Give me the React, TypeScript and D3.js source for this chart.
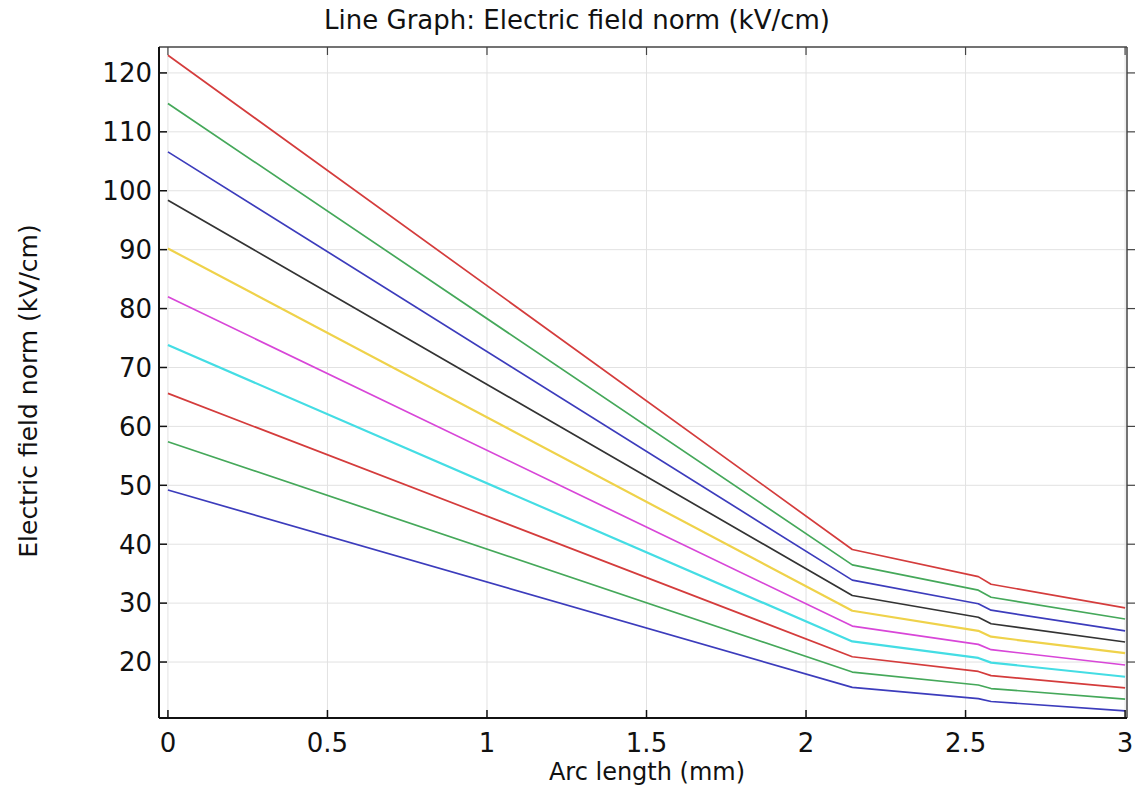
import * as React from 'react';
import * as d3 from 'd3';

// arc length positions (mm) where the curves were sampled
const arcLength = [0, 2.145, 2.54, 2.58, 3];

// electric field norm (kV/cm), bottom curve first
const seriesBlue1 = [49.2, 15.7, 13.8, 13.3, 11.7];
const seriesGreen1 = [57.4, 18.3, 16.1, 15.5, 13.7];
const seriesRed1 = [65.6, 20.9, 18.4, 17.7, 15.6];
const seriesCyan = [73.8, 23.5, 20.7, 19.9, 17.5];
const seriesMagenta = [82.0, 26.1, 23.0, 22.1, 19.5];
const seriesYellow = [90.2, 28.7, 25.3, 24.3, 21.5];
const seriesBlack = [98.4, 31.3, 27.6, 26.5, 23.4];
const seriesBlue2 = [106.6, 33.9, 29.9, 28.8, 25.3];
const seriesGreen2 = [114.8, 36.5, 32.2, 31.0, 27.3];
const seriesRed2 = [123.0, 39.1, 34.5, 33.2, 29.2];

const xTicks = [0, 0.5, 1, 1.5, 2, 2.5, 3];
const yTicks = [20, 30, 40, 50, 60, 70, 80, 90, 100, 110, 120];

const title = 'Line Graph: Electric field norm (kV/cm)';
const xLabel = 'Arc length (mm)';
const yLabel = 'Electric field norm (kV/cm)';

const curves = [
  {values: seriesBlue1, color: '#3c3cbc', width: 1.7},
  {values: seriesGreen1, color: '#45a85a', width: 1.7},
  {values: seriesRed1, color: '#d43c3c', width: 1.7},
  {values: seriesCyan, color: '#44dde4', width: 2.2},
  {values: seriesMagenta, color: '#d846d8', width: 1.7},
  {values: seriesYellow, color: '#efd24a', width: 2.2},
  {values: seriesBlack, color: '#333333', width: 1.7},
  {values: seriesBlue2, color: '#3c3cbc', width: 1.7},
  {values: seriesGreen2, color: '#45a85a', width: 1.7},
  {values: seriesRed2, color: '#d43c3c', width: 1.7}
];

const W = 1135;
const H = 789;
const left = 159;
const right = 1127;
const top = 47;
const bottom = 718;
const font = 'DejaVu Sans, sans-serif';

export default function App() {
  const x = d3.scaleLinear().domain([-0.028, 3.006]).range([left, right]);
  const y = d3.scaleLinear().domain([10.5, 124.4]).range([bottom, top]);
  const line = d3
    .line<number>()
    .x((d, i) => x(arcLength[i]))
    .y(d => y(d));

  return (
    <svg
      width={W}
      height={H}
      style={{position: 'absolute', left: 0, top: 0, background: '#fff'}}
    >
      {/* grid */}
      {xTicks.map(t => (
        <line key={'gx' + t} x1={x(t)} x2={x(t)} y1={top} y2={bottom} stroke='#e2e2e2' strokeWidth={1} />
      ))}
      {yTicks.map(t => (
        <line key={'gy' + t} x1={left} x2={right} y1={y(t)} y2={y(t)} stroke='#e2e2e2' strokeWidth={1} />
      ))}

      {curves.map((c, i) => (
        <path
          key={i}
          d={line(c.values) as string}
          fill='none'
          stroke={c.color}
          strokeWidth={c.width}
          strokeLinejoin='round'
        />
      ))}

      {/* frame */}
      <line x1={left} x2={right} y1={top} y2={top} stroke='#444' strokeWidth={1.5} />
      <line x1={right} x2={right} y1={top} y2={bottom} stroke='#444' strokeWidth={1.5} />
      <line x1={left} x2={right} y1={bottom} y2={bottom} stroke='#111' strokeWidth={2} />
      <line x1={left} x2={left} y1={top} y2={bottom} stroke='#111' strokeWidth={2} />

      {/* ticks */}
      {xTicks.map(t => (
        <g key={'tx' + t}>
          <line x1={x(t)} x2={x(t)} y1={bottom} y2={bottom - 8} stroke='#111' strokeWidth={1.5} />
          <line x1={x(t)} x2={x(t)} y1={top} y2={top + 8} stroke='#444' strokeWidth={1.2} />
          <text x={x(t)} y={752} textAnchor='middle' fontFamily={font} fontSize={26} fill='#111'>
            {t}
          </text>
        </g>
      ))}
      {yTicks.map(t => (
        <g key={'ty' + t}>
          <line x1={left} x2={left + 8} y1={y(t)} y2={y(t)} stroke='#111' strokeWidth={1.5} />
          <line x1={right} x2={right + 8} y1={y(t)} y2={y(t)} stroke='#444' strokeWidth={1.2} />
          <text x={152} y={y(t)} dy='0.36em' textAnchor='end' fontFamily={font} fontSize={26} fill='#111'>
            {t}
          </text>
        </g>
      ))}

      <text x={577} y={29} textAnchor='middle' fontFamily={font} fontSize={26} fill='#111'>
        {title}
      </text>
      <text x={647} y={780} textAnchor='middle' fontFamily={font} fontSize={24} fill='#111'>
        {xLabel}
      </text>
      <text
        transform={`translate(37, 391) rotate(-90)`}
        textAnchor='middle'
        fontFamily={font}
        fontSize={25}
        fill='#111'
      >
        {yLabel}
      </text>
    </svg>
  );
}
